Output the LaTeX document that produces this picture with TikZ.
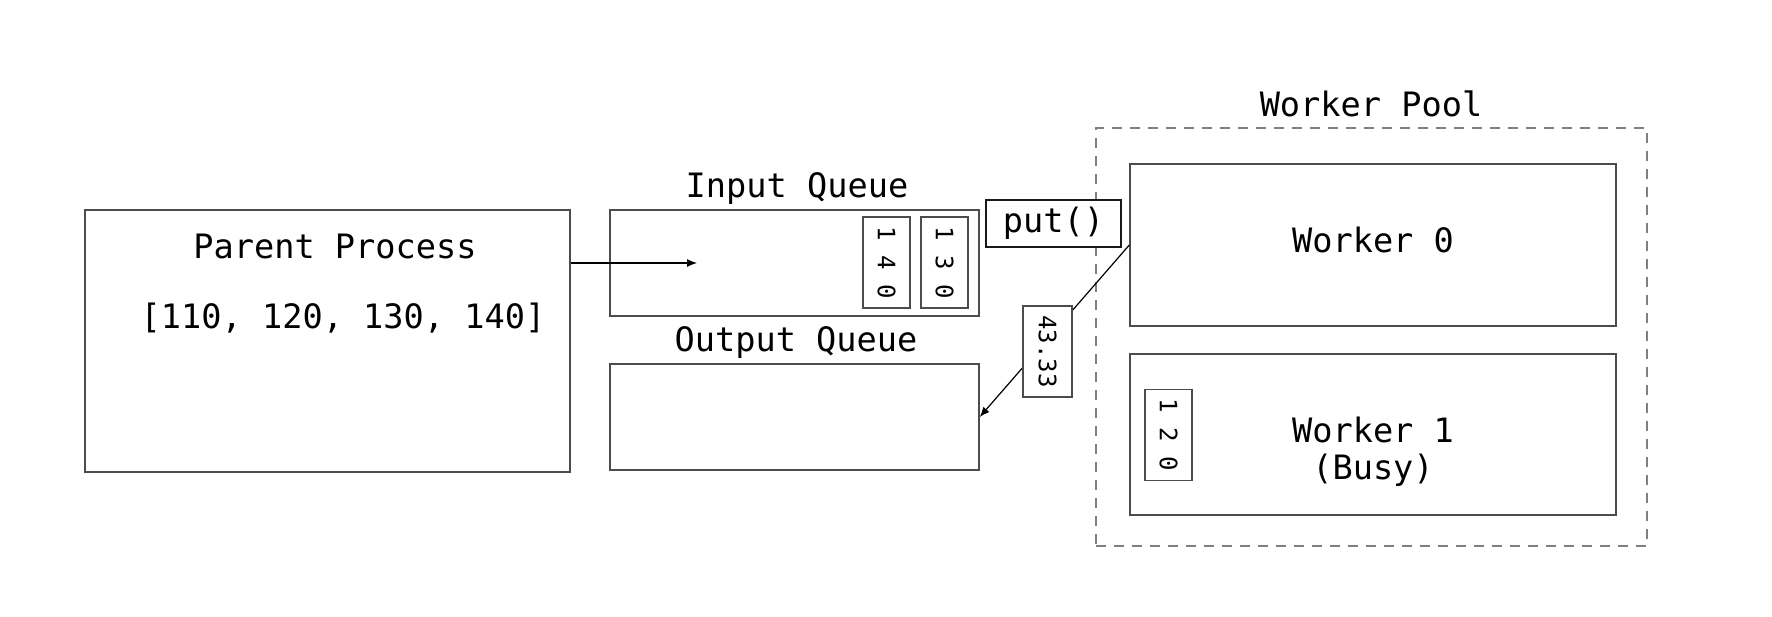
\documentclass[tikz,border=0pt]{standalone}
\usepackage{fontspec}
\setmonofont{DejaVu Sans Mono}
\usetikzlibrary{positioning, arrows.meta}

\begin{document}
\begin{tikzpicture}[x=0.5pt, y=-0.5pt,
    box/.style={draw=black!70, line width=0.7pt, rectangle, inner sep=0pt},
    txt/.style={font=\fontsize{16.8}{18.5}\selectfont\ttfamily, inner sep=0pt},
    item/.style={draw=black!70, line width=0.6pt, fill=white, rectangle, rotate=-90,
      minimum width=45.5pt, minimum height=23.5pt, inner sep=0pt,
      font=\fontsize{12}{13}\selectfont\ttfamily}]
  \useasboundingbox (0,0) rectangle (1772,616);

  % parent side
  \node[box, minimum width=242.5pt, minimum height=131pt] (parent) at (327.5,341) {};
  \node[txt, anchor=base] (ptitle) at (335,258) {Parent Process};
  \node[txt, anchor=base] (plist) at (343,328) {[110, 120, 130, 140]};

  % queues
  \node[box, minimum width=184.5pt, minimum height=53pt] (inq) at (794.5,263) {};
  \node[txt, anchor=base] (inqlbl) at (797,197) {Input Queue};
  \node[box, minimum width=184.5pt, minimum height=53pt] (outq) at (794.5,417) {};
  \node[txt, anchor=base] (outqlbl) at (796,351) {Output Queue};
  \foreach \x/\n/\val in {886.5/140/1 4 0, 944.5/130/1 3 0} {
    \node[item] (it\n) at (\x,262.5) {\val};
  }
  \coordinate (drop) at (697,263);
  \draw[line width=0.6pt, -{Latex[length=5pt, width=4pt]}] (parent.east |- inq.center) -- (drop);

  % workers
  \node[box, draw=black!50, dashed, dash pattern=on 5pt off 4pt, minimum width=275.5pt, minimum height=209pt] (pool) at (1371.5,337) {};
  \node[txt, anchor=base] (poollbl) at (1371,116) {Worker Pool};
  \node[box, minimum width=243pt, minimum height=81pt] (w0) at (1373,245) {};
  \node[txt, anchor=base] (w0lbl) at (1373,252) {Worker 0};
  \node[box, minimum width=243pt, minimum height=80.5pt] (w1) at (1373,434.5) {};
  \node[txt, anchor=base] (w1lbl) at (1373,442) {Worker 1};
  \node[txt, anchor=base] (w1busy) at (1373,479) {(Busy)};
  \node[item] (it120) at (1168.5,435) {1 2 0};

  \node[box, txt, draw=black!90, line width=0.9pt, fill=white, minimum width=67.5pt, minimum height=23.5pt] (put) at (1053.5,223.5) {put()};
  \draw[line width=0.6pt, -{Latex[length=5pt, width=4pt]}] (w0.west) -- (outq.east);
  \node[item, minimum height=24.5pt] (res) at (1047.5,351.5) {43.33};
\end{tikzpicture}
\end{document}
